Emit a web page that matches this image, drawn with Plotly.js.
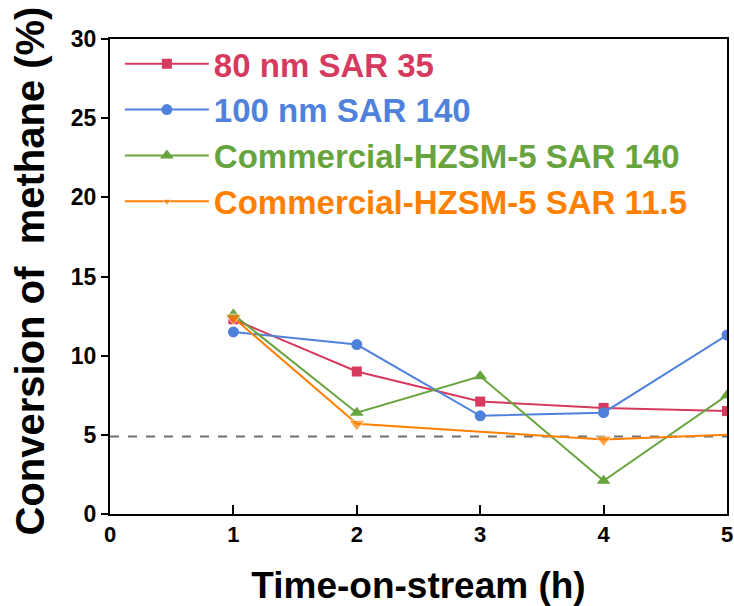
<!DOCTYPE html>
<html>
<head>
<meta charset="utf-8">
<script src="https://cdn.plot.ly/plotly-3.0.1.min.js"></script>
<style>html,body{margin:0;padding:0;background:#fff}#chart{width:734px;height:606px}</style>
</head>
<body>
<div id="chart"></div>
<script>
// ---- data ----
const hours = [1, 2, 3, 4, 5];
const seriesNames = ["80 nm SAR 35", "100 nm SAR 140", "Commercial-HZSM-5 SAR 140", "Commercial-HZSM-5 SAR 11.5"];
const sar35_80nm = [12.3, 9.0, 7.1, 6.7, 6.5];
const sar140_100nm = [11.5, 10.7, 6.2, 6.4, 11.3];
const commSar140 = [12.6, 6.4, 8.7, 2.1, 7.5];
const commSar115 = [12.4, 5.7, 5.2, 4.7, 5.0];
const referenceLevel = 4.9;
const referenceX = [0, 5];
const xTicks = [0, 1, 2, 3, 4, 5];
const yTicks = [0, 5, 10, 15, 20, 25, 30];
const xTitle = "Time-on-stream (h)";
const yTitle = "Conversion of&nbsp; methane (%)";

// ---- styles ----
const colors = ["#D63A5E", "#5082DB", "#67A43E", "#FF7F00"];
const symbols = ["square", "circle", "triangle-up", "triangle-down"];
const sizes = [10, 11, 12, 12];
const values = [sar35_80nm, sar140_100nm, commSar140, commSar115];
const markerSizes = [null, null, null, [14, 14, 0, 14, 0]];
const FONT = "Liberation Sans, Arial, sans-serif";

const traces = values.map((v, i) => ({
  x: hours, y: v, type: "scatter", mode: "lines+markers",
  name: '<span style="color:' + colors[i] + '">' + seriesNames[i] + '</span>',
  line: {color: colors[i], width: 2},
  marker: {color: colors[i], symbol: symbols[i], size: markerSizes[i] || sizes[i]},
  cliponaxis: true
}));

traces.unshift({
  x: referenceX, y: referenceX.map(() => referenceLevel), type: "scatter", mode: "lines",
  line: {color: "#707070", width: 2, dash: "dash"}, showlegend: false, hoverinfo: "skip"
});

const layout = {
  width: 734, height: 606,
  margin: {l: 110, r: 7, t: 39, b: 92},
  paper_bgcolor: "#fff", plot_bgcolor: "#fff",
  font: {family: FONT, color: "#000"},
  showlegend: true,
  legend: {
    x: 0.016, y: 1.007, xanchor: "left", yanchor: "top",
    bgcolor: "rgba(0,0,0,0)", itemwidth: 84,
    font: {family: FONT, size: 33, weight: "bold", color: "#000"},
    tracegroupgap: 0
  },
  xaxis: {
    range: [0, 5], tickvals: xTicks, ticktext: xTicks.map(String),
    showgrid: false, zeroline: false,
    showline: true, linecolor: "#000", linewidth: 2, mirror: true,
    ticks: "inside", ticklen: 9, tickwidth: 2, tickcolor: "#000",
    tickfont: {family: FONT, size: 22, weight: "bold", color: "#000"},
    title: {text: xTitle, font: {family: FONT, size: 37, weight: "bold", color: "#000"}, standoff: 28}
  },
  yaxis: {
    range: [0, 30], tickvals: yTicks, ticktext: yTicks.map(String),
    showgrid: false, zeroline: false,
    showline: true, linecolor: "#000", linewidth: 2, mirror: true,
    ticks: "outside", ticklen: 7, tickwidth: 2, tickcolor: "#000",
    tickfont: {family: FONT, size: 23, weight: "bold", color: "#000"}
  },
  annotations: [{
    text: yTitle, xref: "paper", yref: "paper", x: 0, y: 0.5,
    xanchor: "center", yanchor: "middle", xshift: -81, yshift: 5,
    textangle: -90, showarrow: false,
    font: {family: FONT, size: 40, weight: "bold", color: "#000"}
  }]
};

Plotly.newPlot("chart", traces, layout, {displayModeBar: false, staticPlot: true});
</script>
</body>
</html>
